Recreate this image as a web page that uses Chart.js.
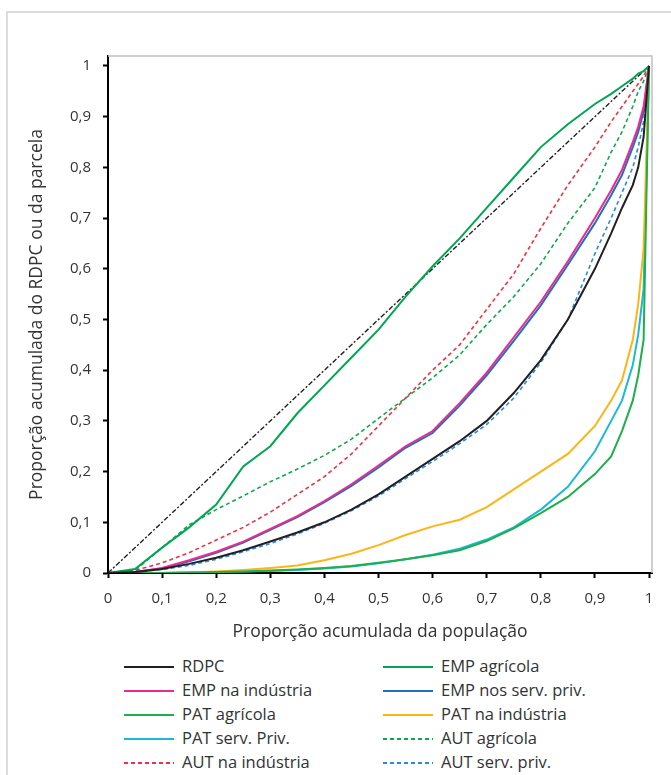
<!DOCTYPE html>
<html>
<head>
<meta charset="utf-8">
<script src="https://cdn.jsdelivr.net/npm/chart.js@4.4.0/dist/chart.umd.min.js"></script>
<style>
  body { margin: 0; background: #fff; font-family: "Open Sans", sans-serif; }
  #frame { position: absolute; left: 6px; top: 11px; width: 720px; height: 820px; border: 2px solid #dcdcdc; box-sizing: border-box; }
  #wrap { position: absolute; left: 0; top: 0; width: 671px; height: 650px; }
  .leg { position: absolute; height: 20px; font-size: 16.5px; color: #333; white-space: nowrap; line-height: 20px; }
  .leg svg { position: absolute; left: 0; top: 5px; }
  .leg span { position: absolute; left: 58px; top: -1px; }
</style>
</head>
<body>
<div id="frame"></div>
<div id="wrap"><canvas id="chart" width="671" height="650"></canvas></div>
<div id="legend"></div>
<script>
// population share (x) shared by every curve
const popShare = [0, 0.05, 0.1, 0.15, 0.2, 0.25, 0.3, 0.35, 0.4, 0.45, 0.5, 0.55, 0.6, 0.65, 0.7, 0.75, 0.8, 0.85, 0.9, 0.93, 0.95, 0.97, 0.98, 0.99, 1];

const rdpc        = [0, 0.002, 0.008, 0.018, 0.03, 0.045, 0.062, 0.08, 0.10, 0.125, 0.155, 0.19, 0.225, 0.26, 0.30, 0.355, 0.42, 0.50, 0.60, 0.67, 0.72, 0.765, 0.80, 0.86, 1];
const empAgr      = [0, 0.008, 0.05, 0.09, 0.135, 0.21, 0.25, 0.315, 0.37, 0.425, 0.48, 0.545, 0.605, 0.66, 0.72, 0.78, 0.84, 0.885, 0.925, 0.945, 0.96, 0.975, 0.985, 0.99, 1];
const empInd      = [0, 0.002, 0.01, 0.025, 0.042, 0.062, 0.087, 0.112, 0.142, 0.175, 0.212, 0.25, 0.28, 0.335, 0.395, 0.465, 0.535, 0.615, 0.70, 0.755, 0.795, 0.85, 0.88, 0.92, 1];
const empServ     = [0, 0.002, 0.009, 0.023, 0.04, 0.06, 0.085, 0.11, 0.14, 0.172, 0.208, 0.247, 0.276, 0.33, 0.39, 0.458, 0.528, 0.608, 0.69, 0.745, 0.785, 0.84, 0.87, 0.91, 1];
const patAgr      = [0, 0, 0, 0.001, 0.002, 0.003, 0.005, 0.007, 0.01, 0.014, 0.02, 0.027, 0.035, 0.045, 0.063, 0.088, 0.118, 0.15, 0.195, 0.23, 0.28, 0.34, 0.39, 0.46, 1];
const patInd      = [0, 0, 0, 0.001, 0.003, 0.006, 0.01, 0.015, 0.025, 0.038, 0.055, 0.075, 0.092, 0.105, 0.13, 0.165, 0.2, 0.235, 0.29, 0.34, 0.38, 0.46, 0.53, 0.64, 1];
const patServ     = [0, 0, 0, 0.001, 0.002, 0.003, 0.004, 0.006, 0.009, 0.013, 0.019, 0.027, 0.036, 0.048, 0.066, 0.09, 0.125, 0.17, 0.24, 0.30, 0.34, 0.41, 0.47, 0.56, 1];
const autAgr      = [0, 0.005, 0.05, 0.095, 0.125, 0.152, 0.18, 0.205, 0.232, 0.264, 0.305, 0.345, 0.385, 0.43, 0.49, 0.545, 0.61, 0.69, 0.76, 0.83, 0.87, 0.92, 0.95, 0.97, 1];
const autInd      = [0, 0.005, 0.02, 0.04, 0.065, 0.09, 0.12, 0.155, 0.19, 0.235, 0.29, 0.345, 0.40, 0.45, 0.52, 0.59, 0.68, 0.765, 0.84, 0.89, 0.92, 0.95, 0.965, 0.98, 1];
const autServ     = [0, 0.002, 0.007, 0.015, 0.027, 0.042, 0.058, 0.077, 0.098, 0.123, 0.152, 0.186, 0.22, 0.255, 0.293, 0.345, 0.415, 0.50, 0.63, 0.70, 0.75, 0.80, 0.84, 0.89, 1];

const equalityX = [0, 1];
const equalityY = [0, 1];

const seriesNames = ['RDPC', 'EMP agrícola', 'EMP na indústria', 'EMP nos serv. priv.', 'PAT agrícola', 'PAT na indústria', 'PAT serv. Priv.', 'AUT agrícola', 'AUT na indústria', 'AUT serv. priv.'];
const seriesValues = [rdpc, empAgr, empInd, empServ, patAgr, patInd, patServ, autAgr, autInd, autServ];
const seriesColors = ['#231f20', '#00a651', '#ec2a8b', '#1f6fc5', '#1fae4b', '#fdb515', '#1cb8d8', '#10a84f', '#f0304a', '#2b8ae0'];
const seriesDashed = [false, false, false, false, false, false, false, true, true, true];

const xTicks = [0, 0.1, 0.2, 0.3, 0.4, 0.5, 0.6, 0.7, 0.8, 0.9, 1];
const yTicks = [0, 0.1, 0.2, 0.3, 0.4, 0.5, 0.6, 0.7, 0.8, 0.9, 1];

const fmt = v => (Math.round(v * 10) / 10).toString().replace('.', ',');

const datasets = seriesNames.map((name, i) => ({
  label: name,
  data: popShare.map((x, j) => ({ x: x, y: seriesValues[i][j] })),
  borderColor: seriesColors[i],
  borderWidth: seriesDashed[i] ? 1.6 : 2,
  borderDash: seriesDashed[i] ? [4, 3] : [],
  pointRadius: 0,
  tension: 0,
  fill: false
}));

datasets.push({
  label: 'igualdade',
  data: equalityX.map((x, j) => ({ x: x, y: equalityY[j] })),
  borderColor: '#222222',
  borderWidth: 1.4,
  borderDash: [5, 2, 2, 2],
  pointRadius: 0,
  fill: false
});

// gray border on the top and right of the plot area
const plotBox = {
  id: 'plotBox',
  afterDraw(chart) {
    const { ctx, chartArea: a } = chart;
    ctx.save();
    ctx.strokeStyle = '#c0c0c0';
    ctx.lineWidth = 1.5;
    ctx.beginPath();
    ctx.moveTo(a.left, a.top);
    ctx.lineTo(a.right, a.top);
    ctx.lineTo(a.right, a.bottom);
    ctx.stroke();
    ctx.restore();
  }
};

const tickFont = { family: '"Open Sans", sans-serif', size: 15 };
const titleFont = { family: '"Open Sans", sans-serif', size: 17.5 };

new Chart(document.getElementById('chart'), {
  type: 'line',
  data: { datasets },
  options: {
    responsive: false,
    animation: false,
    layout: { padding: { left: 0, top: 56, right: 19, bottom: 0 } },
    plugins: { legend: { display: false }, tooltip: { enabled: false } },
    scales: {
      x: {
        type: 'linear',
        min: 0,
        max: 1.0055,
        afterBuildTicks: s => { s.ticks = xTicks.map(v => ({ value: v })); },
        afterFit: s => { s.height = 77; },
        grid: { drawOnChartArea: false, drawTicks: true, tickLength: 5, tickColor: '#000', tickWidth: 2 },
        border: { display: true, color: '#000', width: 2 },
        ticks: { color: '#333', font: tickFont, padding: 12, maxRotation: 0, callback: v => fmt(v) },
        title: { display: true, text: 'Proporção acumulada da população', color: '#333', font: titleFont, padding: { top: 0, bottom: 7 } }
      },
      y: {
        type: 'linear',
        min: 0,
        max: 1.0197,
        afterBuildTicks: s => { s.ticks = yTicks.map(v => ({ value: v })); },
        afterFit: s => { s.width = 108; },
        grid: { drawOnChartArea: false, drawTicks: true, tickLength: 5, tickColor: '#000', tickWidth: 2 },
        border: { display: true, color: '#000', width: 2 },
        ticks: { color: '#333', font: tickFont, padding: 12, callback: v => fmt(v) },
        title: { display: true, text: 'Proporção acumulada do RDPC ou da parcela', color: '#333', font: titleFont, padding: { top: 27, bottom: 0 } }
      }
    }
  },
  plugins: [plotBox]
});

// legend in two columns, as in the original
const legend = document.getElementById('legend');
const colLeft = [124, 383];
const rowTop = [657, 681, 705, 729, 753];
seriesNames.forEach((name, i) => {
  const item = document.createElement('div');
  item.className = 'leg';
  item.style.left = colLeft[i % 2] + 'px';
  item.style.top = rowTop[Math.floor(i / 2)] + 'px';
  const dash = seriesDashed[i] ? 'stroke-dasharray="4 3"' : '';
  item.innerHTML = `<svg width="50" height="10"><line x1="0" y1="5" x2="50" y2="5" stroke="${seriesColors[i]}" stroke-width="2" ${dash}/></svg><span>${name}</span>`;
  legend.appendChild(item);
});
</script>
</body>
</html>
